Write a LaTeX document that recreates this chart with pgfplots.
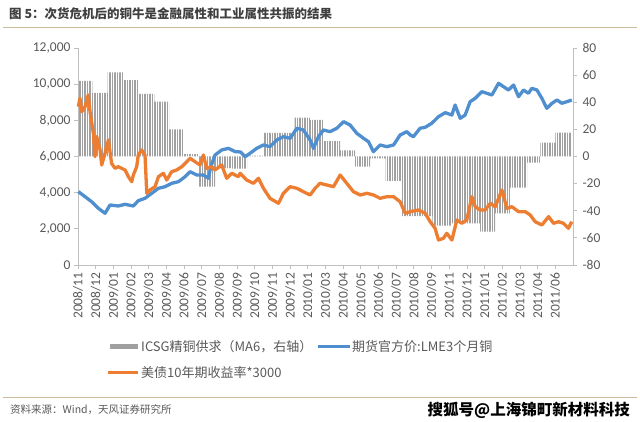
\documentclass[border=0pt]{standalone}
\usepackage{fontspec}
\setmainfont{Carlito}
\newfontfamily\cjk{Noto Sans CJK SC}
\usepackage{pgfplots}
\pgfplotsset{compat=1.18}
\usetikzlibrary{patterns.meta}
\definecolor{cblue}{HTML}{4F8FCF}
\definecolor{corange}{HTML}{ED7D31}
\definecolor{cgray}{HTML}{A0A0A0}
\definecolor{axgray}{HTML}{BFBFBF}
\definecolor{txtgray}{HTML}{595959}
\definecolor{titlec}{HTML}{404040}
\definecolor{rulec}{HTML}{CDBB9B}
\begin{document}
\begin{tikzpicture}[x=1pt,y=1pt]
\path[use as bounding box] (0,0) rectangle (640,422);
\node[anchor=west, font=\cjk\bfseries\fontsize{12.5}{14}\selectfont, text=titlec, inner sep=0] at (9,408) {图 5：次货危机后的铜牛是金融属性和工业属性共振的结果};
\draw[rulec, line width=0.8pt] (3,395) -- (637,395);
\draw[rulec, line width=0.8pt] (3,25) -- (637,25);
\node[anchor=west, font=\cjk\fontsize{10.5}{12}\selectfont, text=txtgray, inner sep=0] at (10,12) {资料来源：Wind，天风证券研究所};
\node[anchor=east, font=\cjk\bfseries\fontsize{15.5}{17}\selectfont, text=black, inner sep=0] at (630,12) {搜狐号@上海锦町新材料科技};
% bars, right axis
\begin{axis}[at={(78pt,157pt)}, anchor=south west, scale only axis, width=495pt, height=217pt,
  xmin=0, xmax=28, ymin=-80, ymax=80,
  axis x line=none, axis y line*=right,
  axis line style={axgray, line width=0.8pt},
  ytick={-80,-60,...,80}, tick align=outside, major tick length=4pt,
  tick style={axgray, line width=0.8pt},
  yticklabel style={font=\fontsize{13.5}{15}\selectfont, text=txtgray, xshift=2pt},
  /pgf/number format/assume math mode=true,
  clip=false]
\addplot[const plot mark left, draw=none, pattern={Lines[angle=90,distance=2.5pt,line width=1.7pt]}, pattern color=cgray] coordinates {
(0,0) (0,55.7) (0.81,47) (1.68,62) (2.57,56.4) (3.45,46.1) (4.32,40.4) (5.15,20) (5.96,1.8)
(6.85,-22.3) (7.75,-8.5) (8.65,-9) (9.56,0.6) (10.5,17.5) (12.25,28.6) (13.13,27) (13.88,11.4)
(14.83,4.5) (15.68,-7.5) (16.53,-1.3) (17.4,-18) (18.32,-44) (20.05,-51) (21.1,-49.3)
(22.75,-55.4) (23.6,-42) (24.45,-23) (25.4,-4.6) (26.15,10.2) (27.0,17.6) (27.93,17.6) (27.93,0)
} -- cycle;
\end{axis}
% lines, left axis
\begin{axis}[at={(78pt,157pt)}, anchor=south west, scale only axis, width=495pt, height=217pt,
  xmin=0, xmax=28, ymin=0, ymax=12000,
  axis x line*=bottom, axis y line*=left,
  axis line style={axgray, line width=0.8pt},
  ytick={0,2000,...,12000}, scaled y ticks=false,
  /pgf/number format/.cd, fixed, 1000 sep={,}, assume math mode=true, /pgfplots/.cd,
  xtick={0,...,27},
  xticklabels={2008/11,2008/12,2009/01,2009/02,2009/03,2009/04,2009/06,2009/07,2009/08,2009/09,2009/10,2009/11,2009/12,2010/01,2010/03,2010/04,2010/05,2010/06,2010/07,2010/08,2010/09,2010/11,2010/12,2011/01,2011/02,2011/03,2011/04,2011/06},
  tick align=outside, major tick length=4pt,
  tick style={axgray, line width=0.8pt},
  yticklabel style={font=\fontsize{13.5}{15}\selectfont, text=txtgray},
  xticklabel style={font=\fontsize{13.5}{15}\selectfont, text=txtgray, rotate=90, anchor=east},
  clip=false]
\addplot[cblue, line width=3.3pt, line join=round] coordinates {
(0.02,4053) (0.40,3777) (0.77,3500) (1.15,3135) (1.53,2859) (1.81,3318) (2.28,3263) (2.66,3357)
(3.13,3263) (3.41,3556) (3.79,3688) (4.17,3965) (4.55,4241) (4.92,4330) (5.30,4518) (5.68,4606)
(6.06,4883) (6.34,5160) (6.72,4977) (7.09,4977) (7.38,4795) (7.5,5400) (7.75,6083) (8.13,6360)
(8.51,6452) (8.89,6267) (9.2,6250) (9.45,5989) (9.73,6177) (10.11,6452) (10.49,6636) (10.86,6544)
(11.24,6913) (11.62,7095) (12.00,7006) (12.38,7560) (12.75,7466) (13.13,6913) (13.32,6452)
(13.60,7095) (13.88,7466) (14.26,7373) (14.64,7560) (15.02,7925) (15.39,7742) (15.77,7283)
(16.15,7006) (16.43,6819) (16.71,6267) (17.09,6636) (17.47,6544) (17.85,6636) (18.22,7189)
(18.60,7373) (18.79,7189) (18.97,7095) (19.35,7560) (19.64,7615) (20.01,7836) (20.39,8201)
(20.77,8422) (21.15,8295) (21.33,8848) (21.62,8112) (21.90,8295) (22.18,9031) (22.47,9218)
(22.84,9584) (23.13,9495) (23.41,9400) (23.79,10048) (24.07,9860) (24.35,9677) (24.64,9954)
(24.92,9307) (25.20,9677) (25.48,9495) (25.67,9771) (25.96,9677) (26.24,9218) (26.52,8665)
(26.81,8942) (27.09,9124) (27.37,8942) (27.65,9031) (27.93,9124)
};
\addplot[corange, line width=3.3pt, line join=round] coordinates {
(0.02,8755) (0.11,9218) (0.21,8478) (0.40,8755) (0.58,9400) (0.68,8478) (0.87,7283) (0.96,5989)
(1.06,7095) (1.25,6360) (1.34,5530) (1.53,6177) (1.72,6913) (1.90,5624) (2.09,5347) (2.28,5436)
(2.47,5347) (2.66,5254) (2.85,4883) (3.04,4606) (3.13,4977) (3.32,5436) (3.41,6083) (3.60,6360)
(3.79,6083) (3.89,3965) (4.07,4148) (4.36,4330) (4.55,4883) (4.83,5071) (5.02,4700) (5.30,5160)
(5.58,5254) (5.87,5436) (6.15,5712) (6.34,5900) (6.62,5712) (6.90,5530) (7.09,6083) (7.28,5347)
(7.56,5436) (7.75,5254) (8.13,5530) (8.41,4795) (8.70,5071) (9.07,4883) (9.17,5071) (9.54,4700)
(9.92,4518) (10.21,4795) (10.49,4241) (10.86,3688) (11.34,3412) (11.62,3965) (12.00,4330)
(12.38,4241) (12.75,4053) (13.13,3871) (13.41,4241) (13.69,4518) (14.07,4424) (14.45,4330)
(14.83,4977) (15.20,4518) (15.58,4053) (15.96,3871) (16.34,3965) (16.71,3871) (17.09,3688)
(17.47,3777) (17.85,3777) (18.22,3500) (18.51,2859) (18.79,2948) (19.26,3041) (19.64,2859)
(19.92,2394) (20.20,2030) (20.39,1382) (20.67,1476) (20.86,1753) (21.15,1382) (21.43,2489)
(21.71,2306) (21.99,2489) (22.28,3777) (22.47,3224) (22.75,3041) (23.03,3041) (23.32,3412)
(23.60,3224) (23.98,4148) (24.26,3135) (24.54,3224) (24.92,2948) (25.30,2948) (25.58,2765)
(25.86,2394) (26.24,2212) (26.62,2671) (26.90,2306) (27.18,2394) (27.46,2306) (27.74,2030)
(27.93,2394)
};
\end{axis}
% legend
\fill[cgray] (110,73) rectangle (138,78);
\node[anchor=west, font=\cjk\fontsize{13}{15}\selectfont, text=txtgray, inner sep=0] at (141,75.5) {ICSG精铜供求（MA6，右轴）};
\draw[cblue, line width=3pt] (318,75.5) -- (350,75.5);
\node[anchor=west, font=\cjk\fontsize{13}{15}\selectfont, text=txtgray, inner sep=0] at (352,75.5) {期货官方价:LME3个月铜};
\draw[corange, line width=3pt] (108,49.5) -- (138,49.5);
\node[anchor=west, font=\cjk\fontsize{13}{15}\selectfont, text=txtgray, inner sep=0] at (141,49.5) {美债10年期收益率*3000};
\end{tikzpicture}
\end{document}
